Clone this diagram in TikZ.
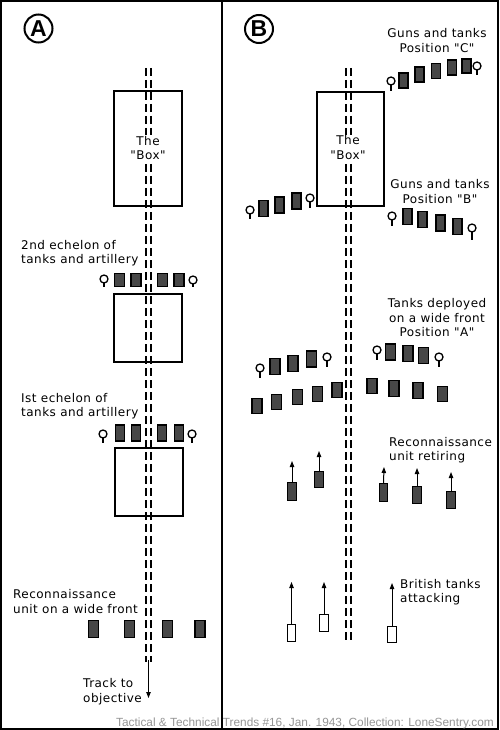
\documentclass[tikz,border=0pt]{standalone}
\usepackage{fontspec}
\setmainfont{DejaVu Sans}[LetterSpace=4,Ligatures=TeXOff]
\newfontfamily\footfont{Liberation Sans}
\newfontfamily\circfont{Liberation Sans}
\usetikzlibrary{arrows.meta}
\definecolor{footgray}{RGB}{150,150,150}
\newcommand\labelfont{\fontsize{12}{14.5}\selectfont}
\newcommand\pennant[4]{\node[pen] (#1) at (#2,#3) {}; \draw[stem] (#1.south) -- ++(0,#4);}
\newcommand\tank[5]{\node[tank, minimum width=#4pt, minimum height=#5pt] (#1) at (#2,#3) {};}
\newcommand\btank[5]{\node[tank, fill=white, line width=1pt, minimum width=#4pt, minimum height=#5pt] (#1) at (#2,#3) {};}
\begin{document}
\begin{tikzpicture}[x=1pt,y=-1pt,
  tank/.style={draw=black, fill=black!72, line width=1.3pt, inner sep=0pt, outer sep=0pt},
  pen/.style={circle, draw=black, fill=white, line width=1.3pt, minimum size=8pt, inner sep=0pt, outer sep=0pt},
  stem/.style={line width=1.3pt},
  lbl/.style={font=\labelfont, align=left, inner sep=0pt},
  clbl/.style={font=\labelfont, align=center, inner sep=0pt},
  arr/.style={-{Triangle[length=6pt,width=4.4pt]}, line width=1pt},
  track/.style={line width=1.1pt, dash pattern=on 8pt off 4pt},
  boxr/.style={draw=black, line width=1.4pt, inner sep=0pt, outer sep=0pt},
  tag/.style={circle, draw=black, line width=2pt, minimum size=28pt, inner sep=0pt, font=\circfont\bfseries\fontsize{23}{23}\selectfont}
]
\useasboundingbox (0,0) rectangle (500,730);
\fill[white] (0,0) rectangle (500,730);
% frame
\draw[line width=2pt] (1,1) rectangle (498,728.5);
\coordinate (divT) at (222,1);
\coordinate (divB) at (222,728.5);
\draw[line width=1.5pt] (divT) -- (divB);

% ================= Panel A =================
\node[tag] (cA) at (38.5,28.5) {A};
% track
\coordinate (taL1) at (146,68); \coordinate (taL2) at (146,662);
\coordinate (taR1) at (151,68); \coordinate (taR2) at (151,662);
\draw[track] (taL1) -- (taL2);
\draw[track] (taR1) -- (taR2);
\coordinate (arA0) at (148.5,660); \coordinate (arA1) at (148.5,698);
\draw[arr] (arA0) -- (arA1);
% boxes
\node[boxr, minimum width=68pt, minimum height=115pt] (boxA1) at (148,148.5) {};
\node[boxr, minimum width=68pt, minimum height=68pt] (boxA2) at (148,328) {};
\node[boxr, minimum width=68pt, minimum height=68pt] (boxA3) at (149,482) {};
\node[clbl, fill=white, inner sep=1pt] (theboxA) at (148,148) {The\\"Box"};
% 2nd echelon
\node[lbl, anchor=west] (lab2nd) at (21,253) {2nd echelon of\\tanks and artillery};
\pennant{pa1}{104}{279}{4}
\tank{ta1}{119.5}{280}{10}{13}
\tank{ta2}{136}{280}{10}{13}
\tank{ta3}{162.5}{280}{10}{13}
\tank{ta4}{179}{280}{10}{13}
\pennant{pa2}{193}{280}{3}
% 1st echelon
\node[lbl, anchor=west] (lab1st) at (21,406) {Ist echelon of\\tanks and artillery};
\pennant{pa3}{103}{434}{5}
\tank{ta5}{120}{433}{9.5}{16}
\tank{ta6}{136}{433}{9.5}{16}
\tank{ta7}{162}{433}{9.5}{16}
\tank{ta8}{179}{433}{9.5}{16}
\pennant{pa4}{192}{434}{5}
% reconnaissance A
\node[lbl, anchor=west] (labreconA) at (13,601.5) {Reconnaissance\\unit on a wide front};
\tank{ra1}{93.8}{629}{10}{17}
\tank{ra2}{129.7}{629}{10}{17}
\tank{ra3}{167.5}{629}{10}{17}
\tank{ra4}{200}{629}{10}{17}
\node[lbl, anchor=west] (labtrack) at (83,691.5) {Track to\\objective};

% ================= Panel B =================
\node[tag] (cB) at (259,29) {B};
\coordinate (tbL1) at (346,68); \coordinate (tbL2) at (346,642);
\coordinate (tbR1) at (351,68); \coordinate (tbR2) at (351,642);
\draw[track] (tbL1) -- (tbL2);
\draw[track] (tbR1) -- (tbR2);
\node[boxr, minimum width=67pt, minimum height=114pt] (boxB) at (350.5,149) {};
\node[clbl, fill=white, inner sep=1pt] (theboxB) at (348,147.5) {The\\"Box"};

% Position C
\node[clbl] (labC) at (437,40.5) {Guns and tanks\\Position "C"};
\pennant{pc1}{391}{81}{6}
\tank{tc1}{403.5}{80.5}{9}{15}
\tank{tc2}{419.5}{74.5}{9}{15}
\tank{tc3}{436}{71}{9}{15}
\tank{tc4}{452}{67.5}{9}{15}
\tank{tc5}{466.5}{66}{9}{14}
\pennant{pc2}{477}{66}{5}

% Position B
\node[clbl] (labB) at (440,191.5) {Guns and tanks\\Position "B"};
\pennant{pb1}{392}{216}{6}
\tank{tb1}{407.5}{216.5}{9}{16}
\tank{tb2}{422.5}{219.5}{9}{16}
\tank{tb3}{440.5}{223}{9}{16}
\tank{tb4}{457.5}{226.5}{9}{16}
\pennant{pb2}{472}{228}{8}
\pennant{pb3}{250}{210}{5}
\tank{tl1}{263.5}{208.5}{9}{16}
\tank{tl2}{279.5}{205}{9}{16}
\tank{tl3}{296.5}{201}{9}{16}
\pennant{pb4}{310}{198}{6}

% Position A
\node[clbl] (labA) at (437,318) {Tanks deployed\\on a wide front\\Position "A"};
\pennant{pp1}{260}{368}{6}
\tank{tp1}{275}{366.5}{10}{16}
\tank{tp2}{293}{363.5}{10}{16}
\tank{tp3}{311.5}{359}{10}{16}
\pennant{pp2}{327}{357}{6}
\pennant{pp3}{377}{350}{6}
\tank{tp4}{390.5}{352}{10}{16}
\tank{tp5}{408}{353.5}{10}{16}
\tank{tp6}{423.5}{355.5}{10}{16}
\pennant{pp4}{439}{357}{6}
\tank{tq1}{257}{406}{10}{15.5}
\tank{tq2}{276.5}{402}{10}{15.5}
\tank{tq3}{297.5}{397}{10}{15.5}
\tank{tq4}{317.5}{394}{10}{15.5}
\tank{tq5}{337}{390}{10}{15.5}
\tank{tq6}{372}{386}{10}{15.5}
\tank{tq7}{394}{388.5}{10}{15.5}
\tank{tq8}{418}{390.5}{10}{15.5}
\tank{tq9}{442.5}{394}{10}{15.5}

% Reconnaissance retiring
\node[lbl, anchor=west] (labret) at (389,450) {Reconnaissance\\unit retiring};
\tank{rr1}{292}{491.5}{9}{18}
\tank{rr2}{319}{479.5}{9}{16}
\tank{rr3}{383.5}{492.5}{8.5}{18}
\tank{rr4}{417}{495}{9}{17}
\tank{rr5}{451}{500}{9}{17}
\coordinate (rt1) at (292,461);
\coordinate (rt2) at (319,451);
\coordinate (rt3) at (384,467);
\coordinate (rt4) at (417,468);
\coordinate (rt5) at (451,472);
\draw[arr] (rr1.north) -- (rt1);
\draw[arr] (rr2.north) -- (rt2);
\draw[arr] (rr3.north) -- (rt3);
\draw[arr] (rr4.north) -- (rt4);
\draw[arr] (rr5.north) -- (rt5);

% British tanks
\node[lbl, anchor=west] (labbrit) at (400,592) {British tanks\\attacking};
\btank{bt1}{291.5}{633}{8.5}{17}
\btank{bt2}{324}{623}{9}{17}
\btank{bt3}{392}{634.5}{9}{16}
\coordinate (bb1) at (291.5,582);
\coordinate (bb2) at (324,582);
\coordinate (bb3) at (392,583);
\draw[arr] (bt1.north) -- (bb1);
\draw[arr] (bt2.north) -- (bb2);
\draw[arr] (bt3.north) -- (bb3);

% footer
\node[anchor=base east, inner sep=0pt, text=footgray, font=\footfont\fontsize{11.85}{14}\selectfont] (foot) at (494,726.5) {Tactical \& Technical Trends \#16, Jan. 1943, Collection: LoneSentry.com};
\end{tikzpicture}
\end{document}
